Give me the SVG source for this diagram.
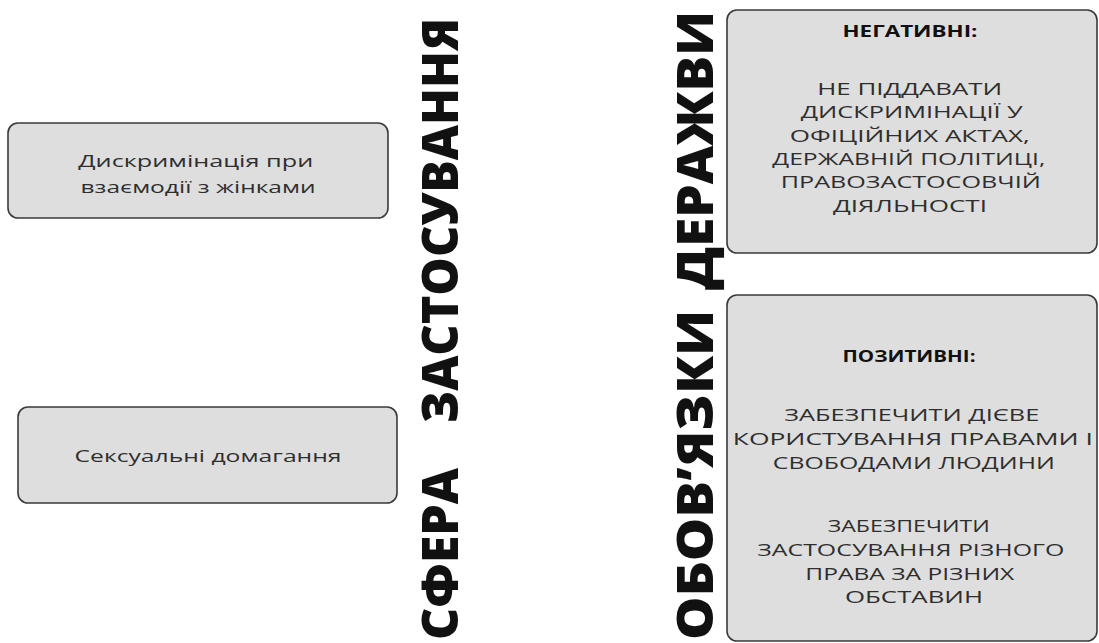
<svg xmlns="http://www.w3.org/2000/svg" width="1099" height="643" viewBox="0 0 1099 643">
  <style>
    .box { fill: #dedede; stroke: #3a3a3a; stroke-width: 1.6; }
    .txt { font-family: "Open Sans", "Noto Sans", "DejaVu Sans", sans-serif; fill: #2e2e2e; text-anchor: middle; }
    .body { font-size: 17px; }
    .head { font-size: 16px; font-weight: 700; fill: #111; }
    .vert { font-family: "Open Sans", "DejaVu Sans", sans-serif; font-size: 49px; font-weight: 800; fill: #111; }
  </style>
  <rect width="1099" height="643" fill="#ffffff"/>

  <!-- vertical headings, read bottom to top -->
  <g id="heading-scope">
    <text class="vert" transform="translate(458,0) rotate(-90)">
      <tspan x="-640" textLength="172" lengthAdjust="spacingAndGlyphs">СФЕРА</tspan>
    </text>
    <text class="vert" transform="translate(458,0) rotate(-90)">
      <tspan x="-423" textLength="405" lengthAdjust="spacingAndGlyphs">ЗАСТОСУВАННЯ</tspan>
    </text>
  </g>
  <g id="heading-duties">
    <text class="vert" transform="translate(713,0) rotate(-90)">
      <tspan x="-640" textLength="330" lengthAdjust="spacingAndGlyphs">ОБОВ’ЯЗКИ</tspan>
    </text>
    <text class="vert" transform="translate(713,0) rotate(-90)">
      <tspan x="-290" textLength="279" lengthAdjust="spacingAndGlyphs">ДЕРАЖВИ</tspan>
    </text>
  </g>

  <!-- left column -->
  <g id="node-discrimination">
    <rect class="box" x="8" y="123" width="380" height="95" rx="10"/>
    <text class="txt body" font-size="18">
      <tspan x="198" y="167" textLength="235" lengthAdjust="spacingAndGlyphs">Дискримінація при</tspan>
      <tspan x="198" y="193" textLength="235" lengthAdjust="spacingAndGlyphs">взаємодії з жінками</tspan>
    </text>
  </g>
  <g id="node-harassment">
    <rect class="box" x="18" y="407" width="379" height="96" rx="10"/>
    <text class="txt body">
      <tspan x="208" y="462" textLength="267" lengthAdjust="spacingAndGlyphs">Сексуальні домагання</tspan>
    </text>
  </g>

  <!-- right column -->
  <g id="node-negative">
    <rect class="box" x="727" y="10" width="370" height="243" rx="10"/>
    <text class="txt head"><tspan x="910" y="37" textLength="135" lengthAdjust="spacingAndGlyphs">НЕГАТИВНІ:</tspan></text>
    <text class="txt body">
      <tspan x="912" y="95" textLength="185" lengthAdjust="spacingAndGlyphs">НЕ ПІДДАВАТИ</tspan>
      <tspan x="914" y="118" textLength="222" lengthAdjust="spacingAndGlyphs">ДИСКРИМІНАЦІЇ У</tspan>
      <tspan x="912" y="142" textLength="240" lengthAdjust="spacingAndGlyphs">ОФІЦІЙНИХ АКТАХ,</tspan>
      <tspan x="911" y="165" textLength="273" lengthAdjust="spacingAndGlyphs">ДЕРЖАВНІЙ ПОЛІТИЦІ,</tspan>
      <tspan x="913" y="188" textLength="260" lengthAdjust="spacingAndGlyphs">ПРАВОЗАСТОСОВЧІЙ</tspan>
      <tspan x="910" y="212" textLength="154" lengthAdjust="spacingAndGlyphs">ДІЯЛЬНОСТІ</tspan>
    </text>
  </g>
  <g id="node-positive">
    <rect class="box" x="727" y="295" width="370" height="346" rx="10"/>
    <text class="txt head"><tspan x="909" y="362" textLength="133" lengthAdjust="spacingAndGlyphs">ПОЗИТИВНІ:</tspan></text>
    <text class="txt body">
      <tspan x="914" y="421" textLength="255" lengthAdjust="spacingAndGlyphs">ЗАБЕЗПЕЧИТИ ДІЄВЕ</tspan>
      <tspan x="915" y="445" textLength="360" lengthAdjust="spacingAndGlyphs">КОРИСТУВАННЯ ПРАВАМИ І</tspan>
      <tspan x="916" y="469" textLength="282" lengthAdjust="spacingAndGlyphs">СВОБОДАМИ ЛЮДИНИ</tspan>
      <tspan x="911" y="532" textLength="162" lengthAdjust="spacingAndGlyphs">ЗАБЕЗПЕЧИТИ</tspan>
      <tspan x="913" y="556" textLength="307" lengthAdjust="spacingAndGlyphs">ЗАСТОСУВАННЯ РІЗНОГО</tspan>
      <tspan x="912" y="580" textLength="209" lengthAdjust="spacingAndGlyphs">ПРАВА ЗА РІЗНИХ</tspan>
      <tspan x="914" y="603" textLength="138" lengthAdjust="spacingAndGlyphs">ОБСТАВИН</tspan>
    </text>
  </g>

  <g id="connectors"/>
</svg>
